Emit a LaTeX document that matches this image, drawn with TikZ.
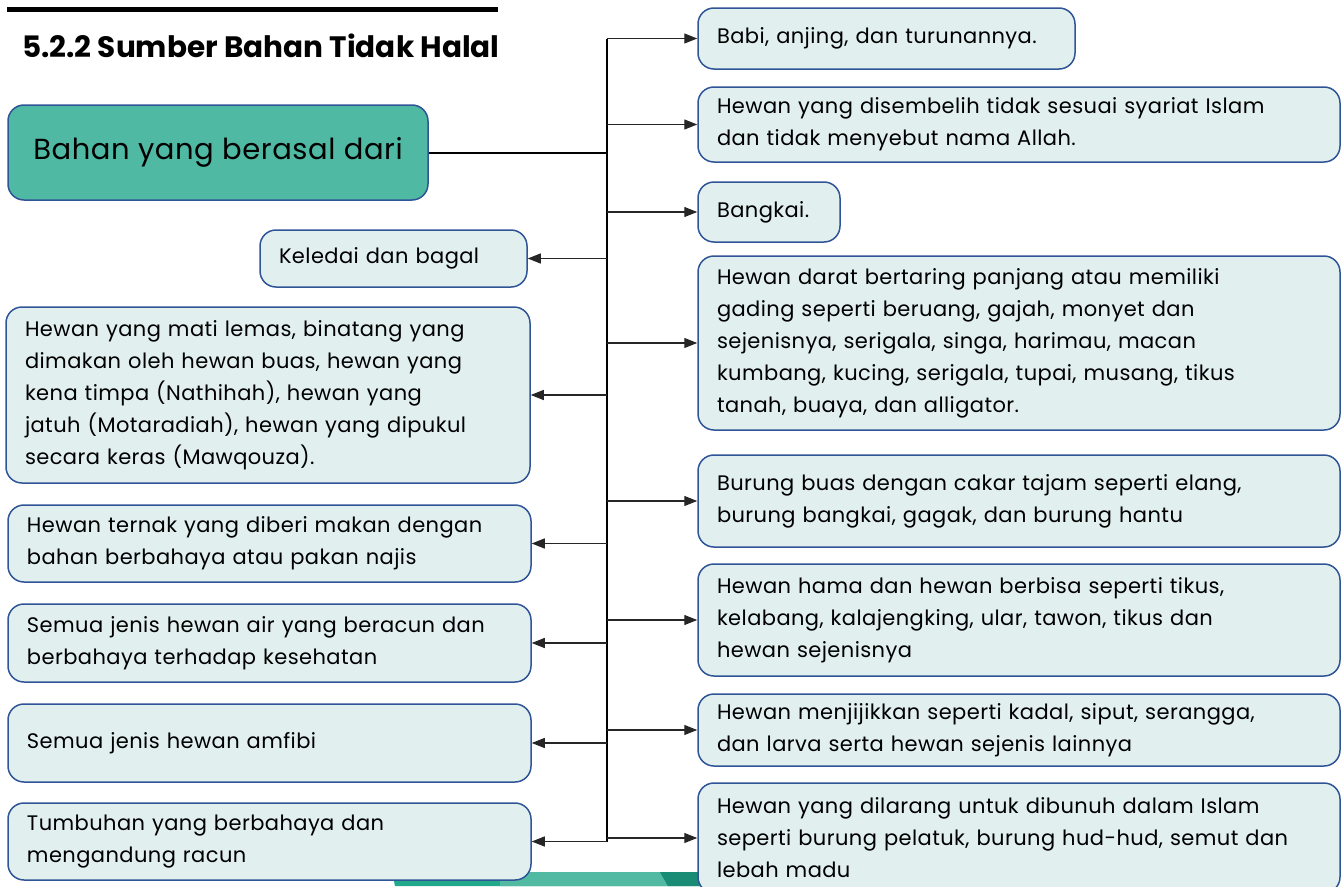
\documentclass[tikz,border=0pt]{standalone}
\usepackage{fontspec}
\setmainfont{Poppins}[LetterSpace=2]
\usetikzlibrary{arrows.meta}
\definecolor{boxfill}{HTML}{E1F0EF}
\definecolor{boxline}{HTML}{2F5597}
\definecolor{maingreen}{HTML}{4FB9A3}
\definecolor{stripA}{HTML}{22A98C}
\definecolor{stripB}{HTML}{52BAA2}
\definecolor{stripC}{HTML}{1A8B74}

\begin{document}
\begin{tikzpicture}[x=1pt,y=-1pt,
  item/.style={draw=boxline, line width=1.5pt, fill=boxfill, rounded corners=16pt,
    align=left, inner xsep=19pt, inner ysep=0pt, font=\fontsize{21}{32}\selectfont},
  link/.style={draw=black!85, line width=1.2pt, -{Triangle[length=13pt,width=10pt]}}]
  \useasboundingbox (0,0) rectangle (1343,886);
  % strip at the foot
  \fill[stripA] (392,872) -- (700,872) -- (700,886) -- (395,886) -- cycle;
  \fill[stripB] (500,872) -- (660,872) -- (668,886) -- (500,886) -- cycle;
  \fill[stripC] (660,872) -- (700,872) -- (700,886) -- (668,886) -- cycle;
  % heading
  \fill (7,7) rectangle (498,12);
  \node[anchor=base west, inner sep=0pt, font=\bfseries\fontsize{29.5}{36}\selectfont\addfontfeatures{LetterSpace=0}] (title) at (22,57) {5.2.2 Sumber Bahan Tidak Halal};
  \node[item, minimum width=420pt, minimum height=95pt, fill=maingreen, align=center,
    font=\fontsize{29}{32}\selectfont] (main) at (218,152.5) {Bahan yang berasal dari};
  % left column
  \node[item, text width=229pt, minimum height=57pt] (keledai) at (393.5,258.5) {Keledai dan bagal};
  \node[item, text width=486pt, minimum height=176pt] (lemas) at (268,395) {Hewan yang mati lemas, binatang yang\\ dimakan oleh hewan buas, hewan yang\\ kena timpa (Nathihah), hewan yang\\ jatuh (Motaradiah), hewan yang dipukul\\ secara keras (Mawqouza).};
  \node[item, text width=485pt, minimum height=77pt] (ternak) at (269.5,543.5) {Hewan ternak yang diberi makan dengan\\ bahan berbahaya atau pakan najis};
  \node[item, text width=485pt, minimum height=78pt] (air) at (269.5,643) {Semua jenis hewan air yang beracun dan\\ berbahaya terhadap kesehatan};
  \node[item, text width=485pt, minimum height=78pt] (amfibi) at (269.5,743) {Semua jenis hewan amfibi};
  \node[item, text width=485pt, minimum height=77pt] (tumbuhan) at (269.5,841.5) {Tumbuhan yang berbahaya dan\\ mengandung racun};
  % right column
  \node[item, text width=339pt, minimum height=61pt] (babi) at (886.5,38.5) {Babi, anjing, dan turunannya.};
  \node[item, text width=604pt, minimum height=75pt] (sembelih) at (1019,124.5) {Hewan yang disembelih tidak sesuai syariat Islam\\ dan tidak menyebut nama Allah.};
  \node[item, text width=104pt, minimum height=60pt] (bangkai) at (769,212) {Bangkai.};
  \node[item, text width=604pt, minimum height=174pt] (darat) at (1019,343) {Hewan darat bertaring panjang atau memiliki\\ gading seperti beruang, gajah, monyet dan\\ sejenisnya, serigala, singa, harimau, macan\\ kumbang, kucing, serigala, tupai, musang, tikus\\ tanah, buaya, dan alligator.};
  \node[item, text width=604pt, minimum height=92pt] (burung) at (1019,501) {Burung buas dengan cakar tajam seperti elang,\\ burung bangkai, gagak, dan burung hantu};
  \node[item, text width=604pt, minimum height=112pt] (hama) at (1019,620) {Hewan hama dan hewan berbisa seperti tikus,\\ kelabang, kalajengking, ular, tawon, tikus dan\\ hewan sejenisnya};
  \node[item, text width=604pt, minimum height=72pt] (jijik) at (1019,730) {Hewan menjijikkan seperti kadal, siput, serangga,\\ dan larva serta hewan sejenis lainnya};
  \node[item, text width=604pt, minimum height=110pt] (larang) at (1019,838) {Hewan yang dilarang untuk dibunuh dalam Islam\\ seperti burung pelatuk, burung hud-hud, semut dan\\ lebah madu};
  % trunk and branches
  \coordinate (top) at (babi.west -| 607,0);
  \coordinate (bot) at (tumbuhan.east -| 607,0);
  \draw[line width=1.2pt] (top) -- (bot);
  \draw[line width=2pt] (main.east) -| (bot);
  \foreach \n in {babi,sembelih,bangkai,darat,burung,hama,jijik,larang}
    \draw[link] (\n.west -| top) -- (\n.west);
  \foreach \n in {keledai,lemas,ternak,air,amfibi,tumbuhan}
    \draw[link] (\n.east -| top) -- (\n.east);
\end{tikzpicture}
\end{document}
